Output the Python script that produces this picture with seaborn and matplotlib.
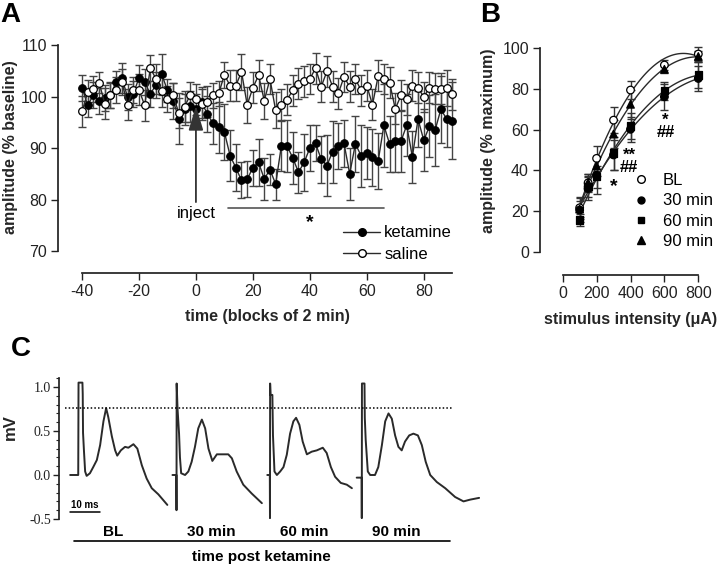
import numpy as np
import pandas as pd
import matplotlib
matplotlib.use('Agg')
import matplotlib.pyplot as plt
import seaborn as sns
from matplotlib.lines import Line2D
from matplotlib.ticker import MultipleLocator

# ---- panel A: field potential amplitude over time ----
blocks = np.arange(-40, 91, 2)
ket_mean = [101.7, 98.3, 100.3, 99.2, 99.7, 100.2, 102.9, 103.6, 99.9, 100.5,
            103.6, 102.8, 100.5, 102.3, 104.3, 101.2, 99.2, 95.7, 97.5, 98.1,
            97.5, 98.9, 96.6, 94.8, 94.0, 93.1, 88.5, 86.2, 83.7, 83.9,
            86.2, 87.2, 84.0, 85.8, 83.0, 90.4, 90.4, 88.1, 85.3, 87.2,
            90.0, 90.9, 87.8, 86.6, 89.3, 90.4, 90.9, 85.0, 90.8, 88.5,
            89.0, 88.2, 87.5, 94.4, 90.8, 91.3, 91.3, 94.4, 88.3, 95.6,
            91.5, 94.2, 93.5, 97.5, 95.7, 95.3]
ket_err = [2.5, 2.2, 2.5, 2.5, 2.5, 2.5, 2.0, 3.0, 2.5, 2.5,
           2.5, 2.5, 2.5, 2.5, 4.0, 2.2, 3.5, 5.0, 3.0, 3.0,
           3.0, 3.0, 3.5, 4.0, 5.0, 5.5, 5.0, 4.5, 3.5, 3.5,
           3.5, 4.5, 4.0, 3.0, 3.0, 4.8, 5.0, 5.0, 4.0, 5.5,
           4.5, 3.5, 4.5, 6.0, 6.0, 4.5, 4.5, 5.0, 5.5, 6.0,
           5.0, 5.5, 5.5, 8.0, 5.5, 6.0, 6.0, 6.0, 5.0, 5.5,
           6.0, 6.0, 7.0, 6.5, 5.5, 7.5]
sal_mean = [97.1, 100.8, 101.4, 102.7, 98.6, 100.3, 101.3, 102.8, 98.4, 101.3,
            101.3, 98.3, 105.5, 103.4, 101.0, 99.5, 100.2, 96.8, 98.0, 100.3,
            99.5, 98.5, 99.0, 100.2, 100.6, 104.2, 102.1, 102.1, 104.8, 98.4,
            101.7, 104.1, 99.2, 103.4, 97.3, 98.4, 99.4, 101.2, 102.5, 103.0,
            103.4, 105.5, 101.9, 104.9, 101.9, 100.6, 103.8, 101.9, 103.4, 101.2,
            102.1, 98.4, 104.0, 103.4, 102.7, 97.6, 100.2, 99.5, 102.1, 101.7,
            99.9, 101.7, 101.5, 101.5, 101.7, 100.4]
sal_err = [3.0, 2.5, 2.5, 2.0, 3.0, 2.5, 2.5, 2.5, 3.0, 2.5,
           3.0, 3.0, 2.5, 3.0, 3.0, 2.5, 2.5, 3.0, 3.0, 2.5,
           3.0, 3.0, 3.0, 2.5, 2.5, 2.5, 3.0, 3.0, 3.5, 3.5,
           3.0, 3.0, 3.5, 3.0, 3.5, 3.0, 3.0, 3.0, 3.0, 3.0,
           3.0, 3.0, 3.0, 3.0, 3.0, 3.0, 3.0, 3.0, 3.0, 3.0,
           3.0, 3.0, 3.0, 3.0, 3.0, 3.0, 3.0, 3.0, 3.0, 3.0,
           3.0, 3.0, 3.0, 3.0, 3.5, 3.0]

# ---- panel B: input/output curves ----
stim = [100, 150, 200, 300, 400, 600, 800]
bl_mean = [21.6, 33.9, 45.9, 64.7, 79.5, 91.8, 97.2]
m30_mean = [20.5, 31.1, 37.6, 47.6, 60.2, 76.2, 85.2]
m60_mean = [15.6, 32.0, 36.9, 48.4, 61.8, 79.2, 86.9]
m90_mean = [21.0, 34.0, 42.2, 57.9, 72.5, 89.7, 96.0]
bl_err = [5.5, 4.5, 6.0, 6.5, 4.5, 2.5, 3.5]
m30_err = [6.0, 5.5, 9.0, 7.5, 6.0, 6.5, 6.0]
m60_err = [3.0, 5.0, 5.5, 8.0, 6.5, 4.5, 6.5]
m90_err = [4.0, 4.0, 5.0, 7.0, 7.0, 2.0, 2.5]
io_labels = ['BL', '30 min', '60 min', '90 min']

# ---- panel C: example traces (ms from stimulus, mV) ----
bl_t = [-2.8, -0.1, 0.0, 1.3, 1.4, 1.5, 1.8, 2.2, 2.7, 3.8, 4.9, 6.1, 7.2, 8.3,
        9.2, 9.9, 11.1, 12.2, 12.9, 14.1, 15.5, 16.6, 18.3, 19.6, 21.1, 22.7,
        24.4, 26.6, 29.6]
bl_v = [0.0, 0.0, 1.05, 1.05, 0.92, 0.48, 0.28, 0.04, -0.01, 0.02, 0.09, 0.17,
        0.34, 0.61, 0.76, 0.66, 0.44, 0.28, 0.22, 0.28, 0.32, 0.31, 0.35, 0.30,
        0.11, -0.04, -0.15, -0.22, -0.34]
m30_t = [-1.4, -0.1, -0.05, 0.0, 0.3, 0.8, 1.1, 1.5, 2.8, 3.9, 5.0, 6.1, 7.2,
         8.4, 9.5, 10.6, 11.9, 13.4, 15.0, 17.2, 18.4, 20.0, 22.2, 25.0, 28.4]
m30_v = [0.0, 0.0, -0.40, 1.04, 0.75, 0.47, 0.2, 0.02, 0.0, 0.04, 0.15, 0.32,
         0.53, 0.63, 0.53, 0.30, 0.16, 0.235, 0.235, 0.235, 0.19, 0.04, -0.11,
         -0.21, -0.32]
m60_t = [-0.9, -0.05, 0.0, 0.05, 0.2, 0.8, 1.0, 1.5, 2.3, 3.4, 4.5, 5.6, 6.7,
         7.8, 8.7, 9.8, 10.9, 12.3, 13.9, 15.6, 17.6, 18.9, 20.3, 21.7, 23.6,
         25.6, 27.3]
m60_v = [0.0, 0.0, -0.49, 1.04, 0.91, 0.91, 0.45, 0.04, 0.0, 0.04, 0.09, 0.23,
         0.47, 0.61, 0.65, 0.57, 0.38, 0.235, 0.265, 0.28, 0.31, 0.25, 0.09,
         -0.02, -0.09, -0.11, -0.15]
m90_t = [-1.7, -0.05, 0.0, 0.05, 0.9, 1.0, 1.3, 2.0, 2.8, 4.4, 5.5, 6.7, 7.8,
         8.9, 10.0, 11.1, 12.2, 13.3, 14.4, 15.8, 17.2, 18.7, 20.0, 21.3, 22.8,
         25.0, 27.8, 31.1, 33.9, 36.1, 39.1]
m90_v = [-0.03, -0.03, -0.49, 1.04, 1.04, 0.65, 0.4, 0.04, 0.0, 0.0, 0.09, 0.34,
         0.61, 0.70, 0.64, 0.45, 0.32, 0.28, 0.38, 0.45, 0.47, 0.45, 0.34, 0.15,
         0.0, -0.08, -0.15, -0.25, -0.30, -0.28, -0.26]
trace_names = ['BL', '30 min', '60 min', '90 min']

sns.set_theme(style='ticks')
plt.rcParams['font.family'] = ['Liberation Sans', 'DejaVu Sans']
plt.rcParams['axes.unicode_minus'] = False
plt.rcParams['axes.edgecolor'] = '#222222'
plt.rcParams['xtick.color'] = '#222222'
plt.rcParams['ytick.color'] = '#222222'
plt.rcParams['text.color'] = 'black'

fig = plt.figure(figsize=(7.2, 5.64), dpi=100)
axA = fig.add_axes([0.106, 0.5367, 0.530, 0.3926])
axB = fig.add_axes([0.7721, 0.5356, 0.2072, 0.3895])
axC = fig.add_axes([0.0824, 0.0798, 0.5843, 0.2496])

lc = '#2a2a2a'

# ===== A =====
axA.errorbar(blocks, ket_mean, yerr=ket_err, fmt='none', ecolor='#444444',
             elinewidth=1, capsize=2.6, capthick=1, zorder=1)
axA.errorbar(blocks, sal_mean, yerr=sal_err, fmt='none', ecolor='#444444',
             elinewidth=1, capsize=2.6, capthick=1, zorder=1)
sns.lineplot(x=blocks, y=ket_mean, ax=axA, color=lc, lw=1, marker='o',
             markersize=5.5, markerfacecolor='black', markeredgecolor='black',
             estimator=None, zorder=3)
sns.lineplot(x=blocks, y=sal_mean, ax=axA, color=lc, lw=1, marker='o',
             markersize=5.5, markerfacecolor='white', markeredgecolor='black',
             markeredgewidth=0.9, estimator=None, zorder=4)

axA.annotate('', xy=(0, 98.2), xytext=(0, 79.5),
             arrowprops=dict(arrowstyle='-|>,head_length=1.0,head_width=0.3',
                             color='#333333', lw=1.3, mutation_scale=15,
                             shrinkA=0, shrinkB=0), zorder=5)
axA.text(0, 77.2, 'inject', ha='center', va='center', fontsize=12)
axA.plot([11.4, 66.2], [78.3, 78.3], color='#555555', lw=1.2)
axA.text(40, 75.6, '*', ha='center', va='center', fontsize=14, fontweight='bold')

hA = [Line2D([], [], color=lc, lw=1, marker='o', ms=5.5, mfc='black', mec='black'),
      Line2D([], [], color=lc, lw=1, marker='o', ms=5.5, mfc='white', mec='black')]
axA.legend(hA, ['ketamine', 'saline'], loc='lower right',
           bbox_to_anchor=(452 / 720, 1 - 262 / 564), bbox_transform=fig.transFigure,
           frameon=False, fontsize=12, handlelength=2.2, handletextpad=0.25,
           labelspacing=0.4, borderpad=0, borderaxespad=0)

axA.set_xlim(-42, 92)
axA.set_ylim(68, 111)
sns.despine(ax=axA)
axA.spines['left'].set_position(('outward', 13))
axA.spines['bottom'].set_position(('outward', 8.6))
axA.spines['left'].set_bounds(70, 110)
axA.spines['bottom'].set_bounds(-40, 90)
axA.set_yticks([70, 80, 90, 100, 110])
axA.set_xticks([-40, -20, 0, 20, 40, 60, 80])
axA.tick_params(length=5, width=1, labelsize=11.5, pad=3)
axA.set_xlabel('time (blocks of 2 min)', fontsize=11.5, fontweight='bold', labelpad=7)
axA.set_ylabel('amplitude (% baseline)', fontsize=11.5, fontweight='bold')
axA.yaxis.set_label_coords(-0.152, 0.514)

# ===== B =====
io = pd.DataFrame({
    'stim': stim * 4,
    'amp': bl_mean + m30_mean + m60_mean + m90_mean,
    'err': bl_err + m30_err + m60_err + m90_err,
    'time': [lab for lab in io_labels for _ in stim],
})
for lab in io_labels:
    sub = io[io['time'] == lab]
    sns.regplot(data=sub, x='stim', y='amp', order=2, ci=None, scatter=False,
                ax=axB, line_kws=dict(color=lc, lw=1))
    axB.errorbar(sub['stim'], sub['amp'], yerr=sub['err'], fmt='none',
                 ecolor='#333333', elinewidth=1, capsize=2.6, capthick=1, zorder=2)
sns.scatterplot(data=io, x='stim', y='amp', style='time', hue='time', ax=axB,
                markers={'BL': 'o', '30 min': 'o', '60 min': 's', '90 min': '^'},
                palette={'BL': 'white', '30 min': 'black', '60 min': 'black', '90 min': 'black'},
                edgecolor='black', linewidth=0.9, s=30, legend=False, zorder=4)

# significance marks (* vs BL, ## vs 90 min)
axB.text(303, 32.0, '*', ha='center', va='center', fontsize=14, fontweight='bold')
axB.text(392, 44.5, '**\n##', ha='center', va='center', fontsize=12,
         fontweight='bold', linespacing=0.75)
axB.text(607, 61.5, '*\n##', ha='center', va='center', fontsize=12,
         fontweight='bold', linespacing=0.75)

hB = [Line2D([], [], ls='none', marker='o', ms=5.5, mfc='white', mec='black'),
      Line2D([], [], ls='none', marker='o', ms=5, mfc='black', mec='black'),
      Line2D([], [], ls='none', marker='s', ms=5, mfc='black', mec='black'),
      Line2D([], [], ls='none', marker='^', ms=5.5, mfc='black', mec='black')]
axB.legend(hB, io_labels, loc='upper left',
           bbox_to_anchor=(633 / 720, 1 - 173 / 564), bbox_transform=fig.transFigure,
           frameon=False, fontsize=12, handlelength=1.0, handletextpad=0.8,
           labelspacing=0.32, borderpad=0, borderaxespad=0)

axB.set_xlim(-40, 840)
axB.set_ylim(-5, 103)
sns.despine(ax=axB)
axB.spines['left'].set_position(('outward', 11.4))
axB.spines['bottom'].set_position(('outward', 9.4))
axB.spines['left'].set_bounds(0, 100)
axB.spines['bottom'].set_bounds(0, 800)
axB.set_yticks([0, 20, 40, 60, 80, 100])
axB.set_xticks([0, 200, 400, 600, 800])
axB.tick_params(length=5, width=1, labelsize=11.5, pad=3)
axB.set_xlabel('stimulus intensity (\u03bcA)', fontsize=11.5, fontweight='bold', labelpad=8)
axB.set_ylabel('amplitude (% maximum)', fontsize=11.5, fontweight='bold')
axB.yaxis.set_label_coords(-0.40, 0.55)

# ===== C =====
trace_t = [bl_t, m30_t, m60_t, m90_t]
trace_v = [bl_v, m30_v, m60_v, m90_v]
stim_at = [6.4, 39.1, 70.2, 100.8]  # where each sweep sits along the x axis (ms)
for t, v, x0 in zip(trace_t, trace_v, stim_at):
    sns.lineplot(x=np.array(t) + x0, y=v, ax=axC, color=lc, lw=1.4,
                 estimator=None, sort=False)
axC.hlines(0.765, 1.9, 130.8, colors='black', linestyles=(0, (1, 1.4)), lw=1.1)
axC.plot([3.6, 13.6], [-0.42, -0.42], color='black', lw=1.1)
axC.text(8.6, -0.40, '10 ms', ha='center', va='bottom', fontsize=7, fontweight='bold')
for name, x0 in zip(trace_names, stim_at):
    axC.text(x0 + 11.5, -0.645, name, ha='center', va='center', fontsize=11,
             fontweight='bold', clip_on=False)
axC.plot([4.9, 130.2], [-0.75, -0.75], color='black', lw=1.2, clip_on=False)
axC.text(67.5, -0.93, 'time post ketamine', ha='center', va='center', fontsize=11,
         fontweight='bold', clip_on=False)

axC.set_xlim(0, 140.2)
axC.set_ylim(-0.5, 1.1)
sns.despine(ax=axC, bottom=True)
axC.spines['left'].set_bounds(-0.5, 1.1)
axC.set_xticks([])
axC.set_yticks([-0.5, 0.0, 0.5, 1.0])
axC.set_yticklabels(['-0.5', '0.0', '0.5', '1.0'], family='Liberation Serif')
axC.yaxis.set_minor_locator(MultipleLocator(0.1))
axC.tick_params(axis='y', which='major', length=4, width=1, labelsize=10, pad=2)
axC.tick_params(axis='y', which='minor', length=2.5, width=0.8)
axC.set_ylabel('mV', fontsize=12, fontweight='bold')
axC.yaxis.set_label_coords(-0.098, 0.65)

fig.text(0.0, 1 - 2 / 564, 'A', ha='left', va='top', fontsize=20, fontweight='bold')
fig.text(480 / 720, 1 - 2 / 564, 'B', ha='left', va='top', fontsize=20, fontweight='bold')
fig.text(11 / 720, 1 - 336 / 564, 'C', ha='left', va='top', fontsize=20, fontweight='bold')

fig.savefig('out.png', dpi=100)
